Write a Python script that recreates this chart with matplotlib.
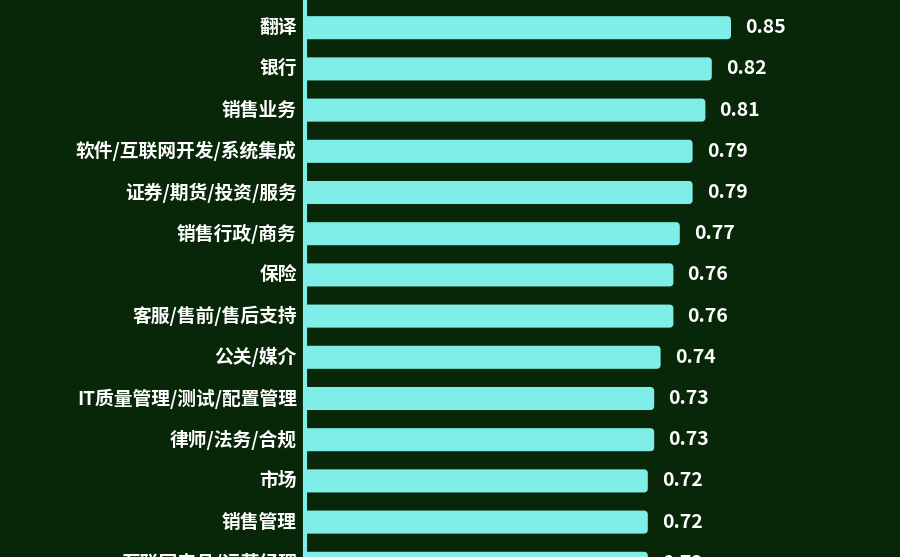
import numpy as np
import matplotlib.pyplot as plt
from matplotlib.patches import FancyBboxPatch, Rectangle

plt.rcParams["font.family"] = ["Noto Sans CJK SC", "DejaVu Sans"]

# 行业 / 数值(从上到下)
categories = [
    "翻译",
    "银行",
    "销售业务",
    "软件/互联网开发/系统集成",
    "证券/期货/投资/服务",
    "销售行政/商务",
    "保险",
    "客服/售前/售后支持",
    "公关/媒介",
    "IT质量管理/测试/配置管理",
    "律师/法务/合规",
    "市场",
    "销售管理",
    "互联网产品/运营经理",
]
values = [0.85, 0.82, 0.81, 0.79, 0.79, 0.77, 0.76, 0.76, 0.74, 0.73, 0.73, 0.72, 0.72, 0.72]

BG = "#082608"
BAR = "#80EEE8"
BASE = 0.184  # 轴线所在位置,截图里横轴不从 0 开始
BAR_H = 0.56

fig = plt.figure(figsize=(9, 5.57), dpi=100)
fig.patch.set_facecolor(BG)
ax = fig.add_axes([0, 0, 1, 1])
ax.set_facecolor(BG)

ypos = np.arange(len(categories))
# 640 px / 单位, 41.2 px / 行
ax.set_xlim(-187 / 640, (900 - 187) / 640)
ax.set_ylim((557 - 27.7) / 41.2, -27.7 / 41.2)

x_px = 640.0
y_px = 41.2
rs = 4 / x_px
clip = Rectangle((BASE, -5), 5, 30, transform=ax.transData)
for y, v in zip(ypos, values):
    p = FancyBboxPatch(
        (BASE - 0.02, y - BAR_H / 2), v - BASE + 0.02, BAR_H,
        boxstyle=f"round,pad=0,rounding_size={rs}",
        mutation_aspect=x_px / y_px,
        facecolor=BAR, edgecolor="none", zorder=2,
    )
    ax.add_patch(p)
    p.set_clip_path(clip)
    ax.text(v + 0.022, y, f"{v:.2f}", color="white", fontsize=14,
            va="center", ha="left", fontweight="bold")
    ax.text(BASE - 0.0125, y, categories[y], color="white", fontsize=13.5,
            va="center", ha="right", fontweight="bold")

ax.axvline(BASE, color=BAR, lw=3, zorder=3)
ax.axis("off")

fig.savefig("out.png", dpi=100, facecolor=BG)
